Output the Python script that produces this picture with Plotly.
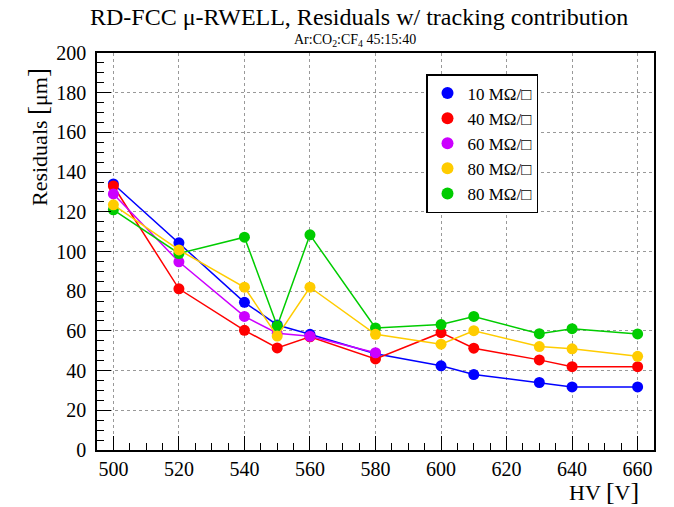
import plotly.graph_objects as go

hv_full = [500, 520, 540, 550, 560, 580, 600, 610, 630, 640, 660]
hv_60 = [500, 520, 540, 550, 560, 580]

res_10 = [134, 104.4, 74.4, 63, 58.3, 48.5, 42.4, 38, 34, 31.8, 31.8]
res_40 = [133, 81.2, 60.3, 51.4, 57, 45.9, 59.1, 51.3, 45.4, 42, 42]
res_60 = [129, 94.8, 67.3, 58.8, 57.3, 49]
res_80a = [123.5, 100.8, 82, 57.4, 82, 58.3, 53.3, 60.1, 52.1, 51, 47.2]
res_80b = [121, 99, 107.2, 62.5, 108.4, 61.5, 63.2, 67.3, 58.6, 61.1, 58.5]

labels = ["10 MΩ/□", "40 MΩ/□", "60 MΩ/□", "80 MΩ/□", "80 MΩ/□"]
colors = ["#0000FF", "#FF0000", "#CC00FF", "#FFCC00", "#00CC00"]
xs = [hv_full, hv_full, hv_60, hv_full, hv_full]
ys = [res_10, res_40, res_60, res_80a, res_80b]

FONT = "Liberation Serif"
PW = 557.0  # plot width in px
PH = 397.0  # plot height in px

fig = go.Figure()
# drawing order (green under yellow)
for i in [0, 1, 2, 4, 3]:
    fig.add_trace(go.Scatter(
        x=xs[i], y=ys[i], mode="lines+markers",
        line=dict(color=colors[i], width=1.5),
        marker=dict(color=colors[i], size=11, line=dict(width=0)),
        showlegend=False, cliponaxis=False, hoverinfo="skip"))
# legend entries (markers only)
for i in range(5):
    fig.add_trace(go.Scatter(
        x=[None], y=[None], mode="markers", name=labels[i],
        marker=dict(color=colors[i], size=11), showlegend=True))

fig.update_layout(
    width=674, height=507,
    margin=dict(l=97, r=20, t=53, b=57),
    plot_bgcolor="white", paper_bgcolor="white",
    font=dict(family=FONT, color="black", size=20),
    legend=dict(x=(426-97)/PW, y=1-(74-53)/PH,
                xanchor="left", yanchor="top",
                bgcolor="white", bordercolor="black", borderwidth=1.5,
                font=dict(size=17, family=FONT), tracegroupgap=0,
                itemsizing="constant", itemwidth=30),
    xaxis=dict(range=[495, 665], tick0=500, dtick=20, ticks="inside", ticklen=14,
               tickwidth=1, tickcolor="black",
               showline=True, linecolor="black", linewidth=1.5, mirror=True,
               showgrid=True, gridcolor="#999999", griddash="dot", gridwidth=1,
               zeroline=False, tickfont=dict(size=20, family=FONT),
               minor=dict(dtick=5, ticks="inside", ticklen=7, tickcolor="black", showgrid=False)),
    yaxis=dict(range=[0, 200], tick0=0, dtick=20, ticks="inside", ticklen=14,
               tickwidth=1, tickcolor="black",
               showline=True, linecolor="black", linewidth=1.5, mirror=True,
               showgrid=True, gridcolor="#999999", griddash="dot", gridwidth=1,
               zeroline=False, tickfont=dict(size=20, family=FONT),
               ticklabelstandoff=5,
               minor=dict(dtick=5, ticks="inside", ticklen=7, tickcolor="black", showgrid=False)),
    annotations=[
        dict(text="RD-FCC μ-RWELL, Residuals w/ tracking contribution",
             xref="paper", yref="paper", x=(359-97)/PW, y=1+(53-2)/PH, xanchor="center", yanchor="top",
             showarrow=False, font=dict(size=24, family=FONT)),
        dict(text="Ar:CO<sub>2</sub>:CF<sub>4</sub> 45:15:40",
             xref="paper", yref="paper", x=(355-97)/PW, y=1+(53-30)/PH, xanchor="center", yanchor="top",
             showarrow=False, font=dict(size=14, family=FONT)),
        dict(text="Residuals <span style='font-size:27px'>[</span>μm<span style='font-size:27px'>]</span>",
             xref="paper", yref="paper", x=0, y=1, xanchor="right", yanchor="top",
             xshift=-42, yshift=-13, textangle=-90,
             showarrow=False, font=dict(size=22, family=FONT)),
        dict(text="HV <span style='font-size:26px'>[</span>V<span style='font-size:26px'>]</span>",
             xref="paper", yref="paper", x=1, y=0, xanchor="right", yanchor="top",
             xshift=-13, yshift=-25,
             showarrow=False, font=dict(size=22, family=FONT)),
    ],
)

fig.write_html("out.html", config={"displayModeBar": False},
               post_script="document.body.style.margin='0';document.body.style.padding='0';")
